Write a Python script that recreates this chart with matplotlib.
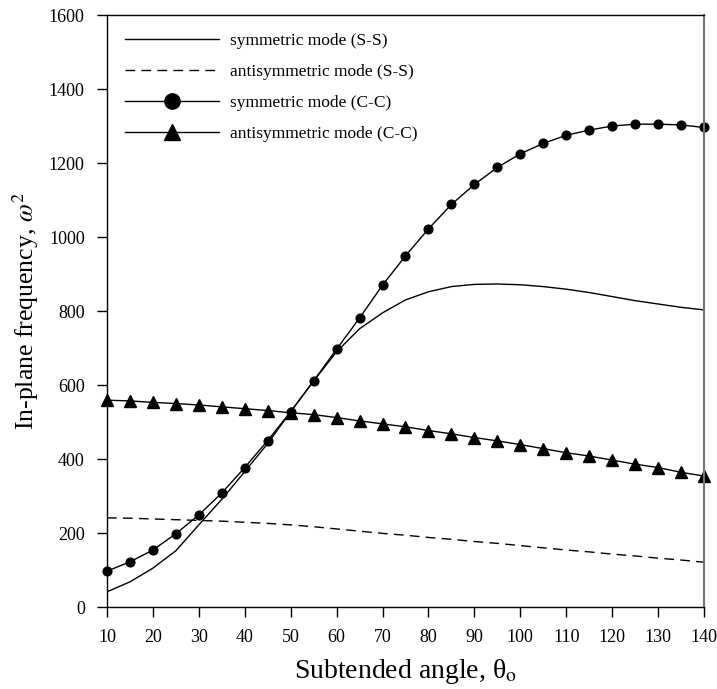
import matplotlib
matplotlib.use("Agg")
import matplotlib.pyplot as plt

plt.rcParams['font.family'] = ['Liberation Serif', 'DejaVu Serif']
plt.rcParams['mathtext.fontset'] = 'stix'

# C-C curves sampled every 5 degrees
theta_cc = [10, 15, 20, 25, 30, 35, 40, 45, 50, 55, 60, 65, 70, 75,
            80, 85, 90, 95, 100, 105, 110, 115, 120, 125, 130, 135, 140]
sym_cc = [97, 122, 154, 198, 249, 308, 377, 450, 528, 611, 697, 781, 870, 949,
          1022, 1088, 1142, 1188, 1225, 1253, 1275, 1289, 1300, 1305, 1305, 1303, 1296]
anti_cc = [559, 557, 553, 550, 546, 541, 536, 531, 525, 520, 512, 503, 495, 487,
           477, 468, 458, 449, 439, 428, 417, 408, 397, 386, 377, 364, 354]

# S-S curves (no markers)
theta_ss = [10, 15, 20, 25, 30, 35, 40, 45, 50, 55, 60, 65, 70, 75,
            80, 85, 90, 95, 100, 105, 110, 115, 120, 125, 130, 135, 140]
sym_ss = [41, 68, 105, 152, 222, 291, 366, 442, 528, 611, 690, 752, 795, 830,
          852, 866, 872, 873, 871, 866, 859, 850, 839, 828, 819, 810, 803]
anti_ss = [241, 240, 238, 236, 234, 232, 229, 226, 222, 217, 211, 205, 199, 194,
           188, 183, 177, 172, 166, 160, 154, 149, 143, 138, 132, 127, 121]

fig = plt.figure(figsize=(7.17, 6.89), dpi=100)
ax = fig.add_axes([0.1492, 0.1190, 0.8327, 0.8592])

ax.plot(theta_ss, sym_ss, color='black', lw=1.0, label='symmetric mode (S-S)')
ax.plot(theta_ss, anti_ss, color='black', lw=1.0, ls=(0, (7, 4.5)),
        label='antisymmetric mode (S-S)')
ax.plot(theta_cc, sym_cc, color='black', lw=1.0, marker='o', ms=6.3,
        label='symmetric mode (C-C)', clip_on=False)
ax.plot(theta_cc, anti_cc, color='black', lw=1.0, marker='^', ms=8,
        label='antisymmetric mode (C-C)', clip_on=False)

ax.set_xlim(10, 140)
ax.set_ylim(0, 1600)
ax.set_xticks(range(10, 141, 10))
ax.set_yticks(range(0, 1601, 200))
ax.tick_params(direction='out', length=7, width=1, labelsize=13, pad=9)
for s in ax.spines.values():
    s.set_linewidth(1.0)
ax.spines['right'].set_color('0.45')
ax.spines['right'].set_linewidth(1.5)

ax.set_xlabel('Subtended angle, θ$_{\\rm o}$', fontsize=20, labelpad=8)
ax.set_ylabel('In-plane frequency, $\\omega^2$', fontsize=18.5, labelpad=6)

leg = ax.legend(loc='upper left', frameon=False, fontsize=12.5, handlelength=5.4,
                labelspacing=0.85, handletextpad=0.65, borderaxespad=0.65)
leg.legend_handles[2].set_markersize(11)
leg.legend_handles[3].set_markersize(11)

fig.savefig('out.png', dpi=100)
